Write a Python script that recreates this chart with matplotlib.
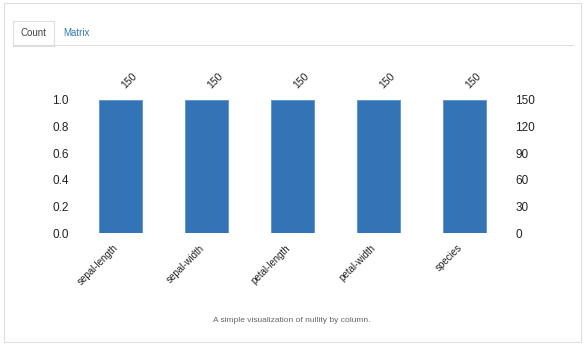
import matplotlib
matplotlib.use("Agg")
import matplotlib.pyplot as plt
from matplotlib.patches import Rectangle
from matplotlib.lines import Line2D
import numpy as np

columns = ["sepal-length", "sepal-width", "petal-length", "petal-width", "species"]
counts = [150, 150, 150, 150, 150]
n_rows = 150
right_ticks = [0, 30, 60, 90, 120, 150]
left_ticks = [0.0, 0.2, 0.4, 0.6, 0.8, 1.0]

plt.rcParams['font.family'] = ['Liberation Sans', 'DejaVu Sans']

W, H = 586, 347
fig = plt.figure(figsize=(W / 100, H / 100), dpi=100)
fig.patch.set_facecolor("white")


def px(x, y, w, h):
    # pixel box (top-left origin) -> figure fraction
    return [x / W, 1 - (y + h) / H, w / W, h / H]


# outer panel border
fig.patches.append(Rectangle((4 / W, 1 - 342 / H), 577 / W, 339 / H, transform=fig.transFigure,
                             fill=False, edgecolor="#dddddd", linewidth=0.8))
# tab bar
fig.add_artist(Line2D([13 / W, 573 / W], [1 - 45 / H, 1 - 45 / H], transform=fig.transFigure,
                      color="#dddddd", linewidth=0.8))
fig.patches.append(Rectangle((13 / W, 1 - 45.5 / H), 41 / W, 24.5 / H, transform=fig.transFigure,
                             facecolor="white", edgecolor="#dddddd", linewidth=0.8))
fig.text(33.5 / W, 1 - 33.5 / H, "Count", ha="center", va="center", fontsize=7, color="#444444")
fig.text(76.5 / W, 1 - 33.5 / H, "Matrix", ha="center", va="center", fontsize=7, color="#337ab7")

ax = fig.add_axes(px(77, 100, 430, 133))
x = np.arange(len(columns))
heights = np.array(counts) / n_rows
ax.bar(x, heights, width=0.5, color="#3274b5", edgecolor="#5b93cc", linewidth=0.6)
ax.set_xlim(-0.5, len(columns) - 0.5)
ax.set_ylim(0, 1)
ax.set_yticks(left_ticks)
ax.set_yticklabels([f"{t:.1f}" for t in left_ticks])
ax.set_xticks(x)
ax.set_xticklabels(columns, rotation=45, ha="right")
ax.tick_params(axis="both", length=0, labelsize=8.5, colors="#222222", pad=6)
ax.tick_params(axis="x", labelsize=7, pad=7)

ax2 = ax.twinx()
ax2.set_ylim(0, n_rows)
ax2.set_yticks(right_ticks)
ax2.tick_params(axis="y", length=0, labelsize=8.5, colors="#222222", pad=6)

ax3 = ax.twiny()
ax3.set_xlim(ax.get_xlim())
ax3.set_xticks(x)
ax3.set_xticklabels([str(c) for c in counts], rotation=45, ha="left")
ax3.tick_params(axis="x", length=0, labelsize=7.5, colors="#222222", pad=7)

for a in (ax, ax2, ax3):
    for s in a.spines.values():
        s.set_visible(False)

fig.text(292 / W, 1 - 320 / H, "A simple visualization of nullity by column.", ha="center", va="center",
         fontsize=6, color="#666666")

fig.savefig("out.png", dpi=100)
